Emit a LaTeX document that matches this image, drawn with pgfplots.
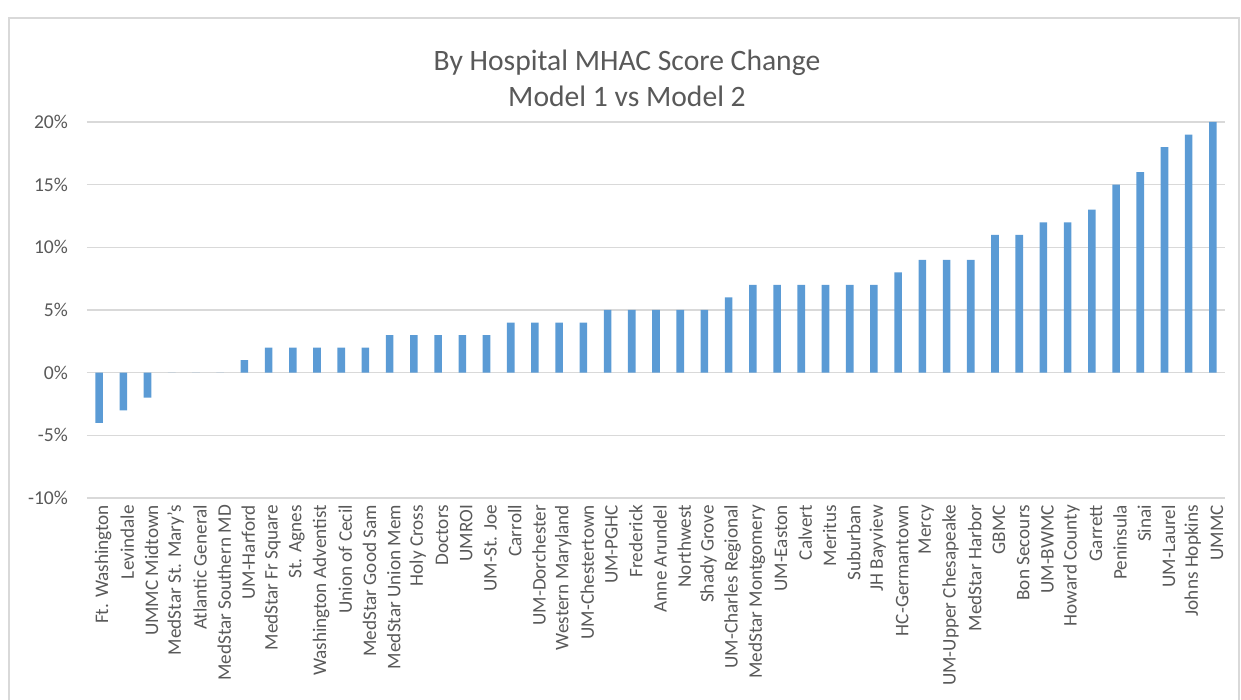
\documentclass[border=0pt]{standalone}
\usepackage{pgfplots}
\pgfplotsset{compat=1.18}
\usepackage{fontspec}
\setmainfont{Carlito}
\definecolor{barblue}{HTML}{5B9BD5}
\definecolor{txtgray}{HTML}{595959}
\definecolor{gridgray}{HTML}{D9D9D9}
\begin{document}
\begin{tikzpicture}
\useasboundingbox (0,0) rectangle (620.5pt,350pt);
\draw[gridgray, line width=1pt] (4.5pt,-5pt) rectangle (619.5pt,341pt);
\node[align=center, text=txtgray, font=\fontsize{14.8}{18}\selectfont] at (313.5pt,311pt)
  {By Hospital MHAC Score Change\\Model 1 vs Model 2};
\begin{axis}[
  at={(43.5pt,101pt)}, anchor=south west,
  scale only axis, width=569pt, height=188pt,
  ybar, bar width=3.8pt,
  xmin=-0.5, xmax=46.5, ymin=-10, ymax=20,
  axis line style={draw=none},
  ymajorgrids, grid style={gridgray, line width=0.8pt},
  ytick={-10,-5,0,5,10,15,20},
  yticklabels={-10\%,-5\%,0\%,5\%,10\%,15\%,20\%},
  yticklabel style={text=txtgray, font=\fontsize{9.8}{11}\selectfont, xshift=-6pt},
  xtick=data,
  xticklabels={Ft. Washington, Levindale, UMMC Midtown, MedStar St. Mary’s, Atlantic General,
    MedStar Southern MD, UM-Harford, MedStar Fr Square, St. Agnes, Washington Adventist,
    Union of Cecil, MedStar Good Sam, MedStar Union Mem, Holy Cross, Doctors, UMROI,
    UM-St. Joe, Carroll, UM-Dorchester, Western Maryland, UM-Chestertown, UM-PGHC,
    Frederick, Anne Arundel, Northwest, Shady Grove, UM-Charles Regional,
    MedStar Montgomery, UM-Easton, Calvert, Meritus, Suburban, JH Bayview,
    HC-Germantown, Mercy, UM-Upper Chesapeake, MedStar Harbor, GBMC, Bon Secours,
    UM-BWMC, Howard County, Garrett, Peninsula, Sinai, UM-Laurel, Johns Hopkins, UMMC},
  xticklabel style={rotate=90, anchor=east, text=txtgray, font=\fontsize{9.6}{10}\selectfont, yshift=-2pt},
  major tick length=0pt,
  clip=false,
]
\addplot[fill=barblue, draw=none] coordinates {
  (0,-4) (1,-3) (2,-2) (3,0) (4,0) (5,0) (6,1) (7,2) (8,2) (9,2)
  (10,2) (11,2) (12,3) (13,3) (14,3) (15,3) (16,3) (17,4) (18,4) (19,4)
  (20,4) (21,5) (22,5) (23,5) (24,5) (25,5) (26,6) (27,7) (28,7) (29,7)
  (30,7) (31,7) (32,7) (33,8) (34,9) (35,9) (36,9) (37,11) (38,11) (39,12)
  (40,12) (41,13) (42,15) (43,16) (44,18) (45,19) (46,20)};
\end{axis}
\end{tikzpicture}
\end{document}
